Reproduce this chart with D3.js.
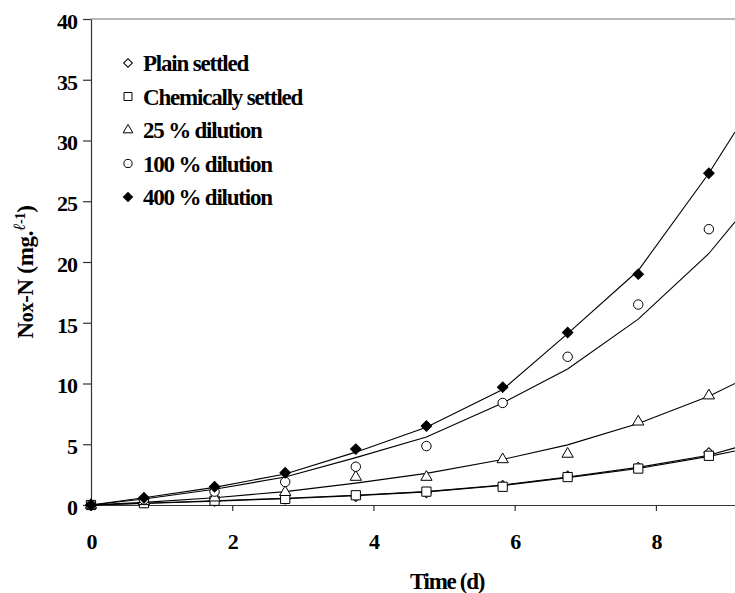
<!DOCTYPE html>
<html>
<head>
<meta charset="utf-8">
<script src="https://cdn.jsdelivr.net/npm/d3@7"></script>
<style>
  body { margin: 0; background: #fff; }
</style>
</head>
<body>
<div id="chart"></div>
<script>
var width = 735,
	height = 593;

var FONT = '"Liberation Serif", "Times New Roman", Times, "DejaVu Serif", serif';

// measured days
var timeDays = [0, 0.75, 1.75, 2.75, 3.75, 4.75, 5.83, 6.75, 7.75, 8.75];
var plainSettled = [0, 0.2, 0.3, 0.5, 0.7, 1.0, 1.6, 2.4, 3.1, 4.3];
var chemSettled  = [0, 0.15, 0.35, 0.5, 0.8, 1.1, 1.5, 2.3, 3.0, 4.05];
var dilution25   = [0, 0.3, 0.6, 1.05, 2.3, 2.3, 3.75, 4.2, 6.85, 9.0];
var dilution100  = [0, 0.45, 1.1, 1.9, 3.15, 4.85, 8.4, 12.2, 16.5, 22.7];
var dilution400  = [0, 0.6, 1.5, 2.65, 4.6, 6.5, 9.7, 14.2, 19.0, 27.3];

// fitted curves
var fitDays = [0, 0.75, 1.75, 2.75, 3.75, 4.75, 5.83, 6.75, 7.75, 8.75, 9.12];
var fitPlain = [0, 0.15, 0.35, 0.55, 0.8, 1.1, 1.65, 2.3, 3.1, 4.1, 4.7];
var fitChem  = [0, 0.12, 0.32, 0.52, 0.77, 1.08, 1.6, 2.25, 3.0, 4.0, 4.45];
var fit25    = [0, 0.22, 0.6, 1.1, 1.8, 2.6, 3.75, 4.95, 6.7, 8.95, 10.0];
var fit100   = [0, 0.5, 1.3, 2.3, 3.9, 5.6, 8.4, 11.2, 15.3, 20.7, 23.3];
var fit400   = [0, 0.6, 1.45, 2.55, 4.35, 6.4, 9.5, 14.1, 19.3, 27.3, 30.7];

var seriesNames = ['Plain settled', 'Chemically settled', '25 % dilution', '100 % dilution', '400 % dilution'];
var xTicks = [0, 2, 4, 6, 8];
var yTicks = [0, 5, 10, 15, 20, 25, 30, 35, 40];

// square symbol turned 45 degrees gives an even diamond
var series = [
	{name: seriesNames[0], values: plainSettled, fit: fitPlain, symbol: d3.symbolSquare, rot: 45, fill: '#fff', size: 50},
	{name: seriesNames[1], values: chemSettled, fit: fitChem, symbol: d3.symbolSquare, rot: 0, fill: '#fff', size: 85},
	{name: seriesNames[2], values: dilution25, fit: fit25, symbol: d3.symbolTriangle, rot: 0, fill: '#fff', size: 55},
	{name: seriesNames[3], values: dilution100, fit: fit100, symbol: d3.symbolCircle, rot: 0, fill: '#fff', size: 70},
	{name: seriesNames[4], values: dilution400, fit: fit400, symbol: d3.symbolSquare, rot: 45, fill: '#000', size: 55}
];

var margin = {left: 91, top: 19, bottom: 88};

var x = d3.scaleLinear()
			.domain([0, 9.12])
			.range([margin.left, width]);

var y = d3.scaleLinear()
			.domain([0, 40])
			.range([height - margin.bottom, margin.top]);

var svg = d3.select('#chart').append('svg')
			.attr('width', width)
			.attr('height', height)
			.style('font-family', FONT);

// grey top border of the plot area
svg.append('line')
	.attr('x1', x(0)).attr('x2', width)
	.attr('y1', y(40)).attr('y2', y(40))
	.attr('stroke', '#a0a0a0')
	.attr('stroke-width', 1.5);

var xAxis = svg.append('g')
	.attr('transform', 'translate(0,' + y(0) + ')')
	.call(d3.axisBottom(x).tickValues(xTicks).tickSize(6).tickSizeOuter(0).tickPadding(22));

var yAxis = svg.append('g')
	.attr('transform', 'translate(' + x(0) + ',0)')
	.call(d3.axisLeft(y).tickValues(yTicks).tickSize(8).tickSizeOuter(0).tickPadding(6));

[xAxis, yAxis].forEach(function(ax) {
	ax.attr('font-family', null);
	ax.selectAll('path, line').attr('stroke', '#333').attr('stroke-width', 1.2);
	ax.selectAll('text')
		.style('font-family', FONT)
		.style('font-weight', 'bold')
		.style('font-size', '22px')
		.style('letter-spacing', '-1px')
		.attr('fill', '#000');
});
yAxis.selectAll('text').attr('dy', '0.42em');

// fitted lines
var line = d3.line()
			.x(function(d) { return x(d[0]); })
			.y(function(d) { return y(d[1]); });

svg.append('g')
	.selectAll('path.fit')
	.data(series)
	.enter()
	.append('path')
	.classed('fit', true)
	.attr('d', function(s) { return line(fitDays.map(function(t, i) { return [t, s.fit[i]]; })); })
	.attr('fill', 'none')
	.attr('stroke', '#000')
	.attr('stroke-width', 1.1);

// markers
svg.append('g')
	.selectAll('g.series')
	.data(series)
	.enter()
	.append('g')
	.classed('series', true)
	.each(function(s) {
		d3.select(this).selectAll('path')
			.data(timeDays.map(function(t, i) { return [t, s.values[i]]; }))
			.enter()
			.append('path')
			.attr('transform', function(d) { return 'translate(' + x(d[0]) + ',' + y(d[1]) + ') rotate(' + s.rot + ')'; })
			.attr('d', d3.symbol().type(s.symbol).size(s.size)())
			.attr('fill', s.fill)
			.attr('stroke', '#000')
			.attr('stroke-width', 1);
	});

// legend
var legend = svg.append('g')
	.attr('transform', 'translate(128,63)');

var rows = legend.selectAll('g')
	.data(series)
	.enter()
	.append('g')
	.attr('transform', function(d, i) { return 'translate(0,' + (i * 33.5) + ')'; });

rows.append('path')
	.attr('transform', function(s) { return 'rotate(' + s.rot + ')'; })
	.attr('d', function(s) { return d3.symbol().type(s.symbol).size(s.size * 0.75)(); })
	.attr('fill', function(s) { return s.fill; })
	.attr('stroke', '#000')
	.attr('stroke-width', 1);

rows.append('text')
	.attr('x', 15)
	.attr('dy', '0.36em')
	.style('font-family', FONT)
	.style('font-weight', 'bold')
	.style('font-size', '23px')
	.style('letter-spacing', '-1.2px')
	.text(function(s) { return s.name; });

// axis titles
svg.append('text')
	.attr('x', 447)
	.attr('y', 589)
	.attr('text-anchor', 'middle')
	.style('font-family', FONT)
	.style('font-weight', 'bold')
	.style('font-size', '23px')
	.style('letter-spacing', '-1.3px')
	.text('Time (d)');

var yTitle = svg.append('text')
	.attr('transform', 'translate(33,272) rotate(-90)')
	.attr('text-anchor', 'middle')
	.style('font-family', FONT)
	.style('font-weight', 'bold')
	.style('font-size', '23px')
	.style('letter-spacing', '-0.3px');

yTitle.append('tspan').text('N');
yTitle.append('tspan').style('font-size', '20px').text('ox');
yTitle.append('tspan').text('-N (mg.');
yTitle.append('tspan').attr('dy', '-8').style('font-size', '17px').style('font-style', 'italic').text('\u2113');
yTitle.append('tspan').style('font-size', '14px').text('-1');
yTitle.append('tspan').attr('dy', '8').text(')');
</script>
</body>
</html>
